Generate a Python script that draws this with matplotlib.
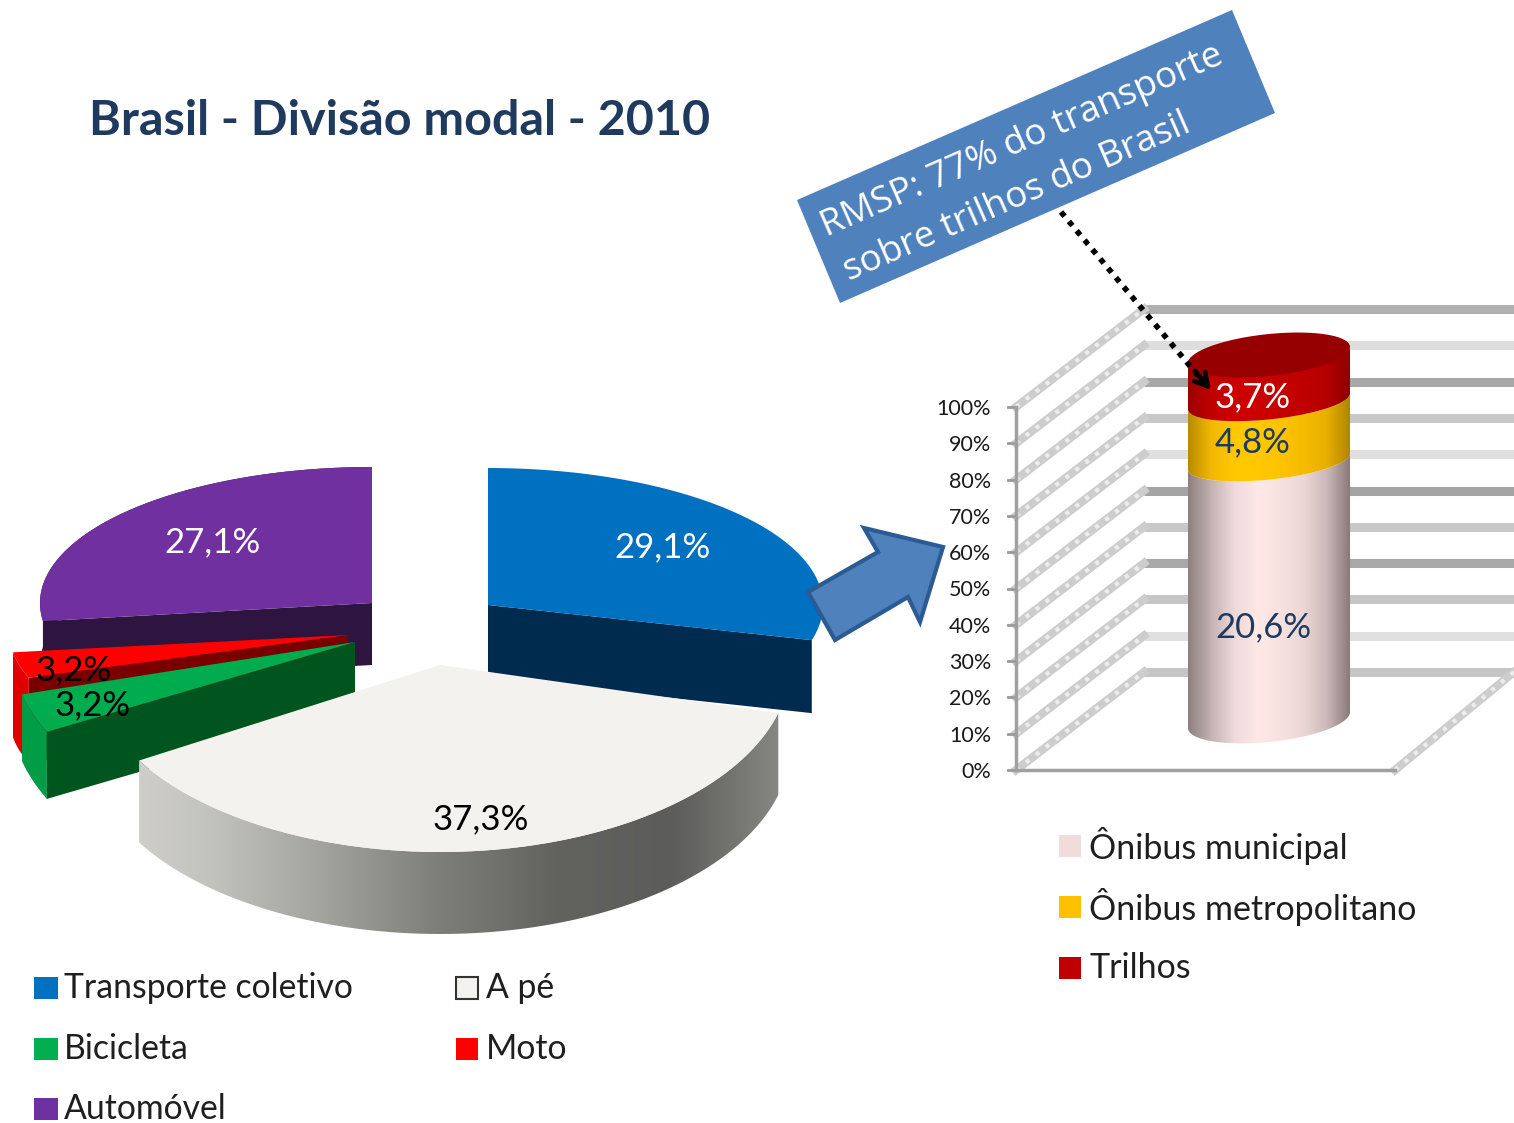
import numpy as np
import matplotlib
matplotlib.use("Agg")
import matplotlib.pyplot as plt
from matplotlib.colors import LinearSegmentedColormap
from matplotlib.patches import Polygon, Rectangle

plt.rcParams['font.family'] = ['Lato', 'DejaVu Sans']

# pie data
pie_names = ['Transporte coletivo', 'A pé', 'Bicicleta', 'Moto', 'Automóvel']
pie_values = [29.1, 37.3, 3.2, 3.2, 27.1]
pie_text = ['29,1%', '37,3%', '3,2%', '3,2%', '27,1%']

# stacked cylinder data
stack_names = ['Ônibus municipal', 'Ônibus metropolitano', 'Trilhos']
stack_values = [20.6, 4.8, 3.7]
stack_text = ['20,6%', '4,8%', '3,7%']
axis_ticks = [0, 10, 20, 30, 40, 50, 60, 70, 80, 90, 100]
grid_shades = ['#C6C6C6', '#E0E0E0', '#C6C6C6', '#A8A8A8', '#C8C8C8', '#A4A4A4',
               '#E0E0E0', '#C8C8C8', '#A8A8A8', '#DEDEDE', '#B0B0B0']

title = 'Brasil - Divisão modal - 2010'
note = ['RMSP: 77% do transporte', 'sobre trilhos do Brasil']

fig = plt.figure(figsize=(15.14, 11.23), dpi=100)
ax = fig.add_axes([0, 0, 1, 1])
ax.set_axis_off()


def reset():
    ax.set_xlim(0, 1514)
    ax.set_ylim(1123, 0)
    ax.set_aspect('auto')


def arc(g, a0, a1, n=80):
    t = np.radians(np.linspace(a0, a1, n))
    return np.c_[g['cx'] + g['rx'] * np.cos(t), g['cy'] - g['ry'] * np.sin(t)]


def gradient(poly, colors, x0, x1, y0, y1, zorder):
    cmap = LinearSegmentedColormap.from_list('g', colors)
    patch = Polygon(poly, closed=True, fc='none', ec='none', zorder=zorder)
    ax.add_patch(patch)
    im = ax.imshow(np.linspace(0, 1, 256)[None, :], cmap=cmap, extent=[x0, x1, y1, y0],
                   aspect='auto', zorder=zorder, interpolation='bilinear')
    im.set_clip_path(patch)
    reset()


# ---- pie, every slice pulled away from the centre by hand
angles = 90 - np.cumsum([0] + pie_values) / sum(pie_values) * 360
geom = [
    dict(cx=488, cy=605, rx=335, ry=137, shift=0, depth=73, top='#0070C0', cut='#002B4F', wall=None, z=4),
    dict(cx=440, cy=665, rx=350, ry=187, shift=0, depth=82, top='#F4F2EE', cut='#888888', wall='grad', z=5),
    dict(cx=355, cy=642, rx=345, ry=200, shift=-4, depth=67, top='#00AC4E', cut='#00551F', wall='#009C46', z=3),
    dict(cx=348, cy=635, rx=338, ry=130, shift=0, depth=85, top='#FF0000', cut='#7A0000', wall='#E00000', z=2),
    dict(cx=372, cy=603, rx=332, ry=136, shift=0, depth=62, top='#7030A0', cut='#2D1540', wall='#2D1540', z=1),
]
for i, g in enumerate(geom):
    a0 = angles[i] + g['shift']
    a1 = angles[i + 1] + g['shift']
    top = arc(g, a0, a1)
    apex = np.array([g['cx'], g['cy']])
    d = np.array([0, g['depth']])
    z = g['z']
    # wall along the rim
    if g['wall'] == 'grad':
        low = np.r_[top, top[::-1] + d]
        gradient(low, ['#D6D5D1', '#C4C4BF', '#A3A39E', '#7E7E79', '#62625F', '#5C5C5A', '#8A8A86'],
                 g['cx'] - g['rx'], g['cx'] + g['rx'], 650, 960, z)
    elif g['wall'] is not None:
        ax.add_patch(Polygon(np.r_[top, top[::-1] + d], fc=g['wall'], ec='none', zorder=z))
    # flat cut face towards the viewer
    if i != 1:
        edge = top[-1] if i == 0 else top[0]
        ax.add_patch(Polygon([apex, edge, edge + d, apex + d], fc=g['cut'], ec='none', zorder=z + 0.1))
    ax.add_patch(Polygon(np.r_[[apex], top], fc=g['top'], ec='none', zorder=z + 0.2))

pie_label_xy = [(663, 547), (481, 819), (93, 705), (74, 670), (212, 542)]
pie_label_col = ['white', 'black', 'black', 'black', 'white']
for txt, (x, y), c in zip(pie_text, pie_label_xy, pie_label_col):
    ax.text(x, y, txt, color=c, fontsize=25, ha='center', va='center', zorder=8)

# pie legend
leg_xy = [(34, 988), (456, 988), (34, 1049), (456, 1049), (34, 1109)]
leg_col = ['#0070C0', '#F4F2EE', '#00B050', '#FF0000', '#7030A0']
for name, (x, y), c in zip(pie_names, leg_xy, leg_col):
    w = 24 if x < 100 else 22
    ax.add_patch(Rectangle((x, y - 11), w, 22, fc=c, ec='#333333' if c == '#F4F2EE' else 'none', lw=1.5))
    ax.text(x + 30, y, name, fontsize=24.3, color='#1F1F1F', ha='left', va='center')

# ---- 3d stacked cylinder
front_x0, front_x1 = 1016, 1395
front_y0, front_y1 = 770, 407
back_dx, back_dy = 128, -98


def val_y(v):
    return front_y0 + (front_y1 - front_y0) * v / 100


for v, shade in zip(axis_ticks, grid_shades):
    y = val_y(v)
    ax.plot([front_x0 + back_dx, 1514], [y + back_dy, y + back_dy], color=shade, lw=6.5,
            solid_capstyle='butt', zorder=1)
    ax.plot([front_x0, front_x0 + back_dx], [y, y + back_dy], color='#CDCDCD', lw=6, zorder=1)
    ax.plot([front_x0, front_x0 + back_dx], [y, y + back_dy], color='#EDEDED', lw=3,
            ls=(0, (1, 2)), zorder=1.1)
    ax.plot([front_x0 - 8, front_x0], [y, y], color='#9A9A9A', lw=2, zorder=2)
    ax.text(991, y + 2, '%d%%' % v, fontsize=15.5, color='#1A1A1A', ha='right', va='center')
ax.plot([front_x1, 1514], [front_y0, front_y0 + back_dy], color='#CDCDCD', lw=6, zorder=1)
ax.plot([front_x1, 1514], [front_y0, front_y0 + back_dy], color='#EDEDED', lw=3, ls=(0, (1, 2)), zorder=1.1)
ax.plot([front_x0, front_x0], [front_y0, front_y1], color='#A0A0A0', lw=2.5, zorder=2)
ax.plot([front_x0, front_x1], [front_y0, front_y0], color='#A0A0A0', lw=2.5, zorder=2)

cyl = dict(cx=1269, rx=81, ry=18, base=720, scale=3.65, tilt=8)
shares = np.cumsum([0] + stack_values) / sum(stack_values) * 100


def rim(v, ry=None):
    t = np.linspace(np.pi, 0, 80)
    ry = cyl['ry'] if ry is None else ry
    x = cyl['cx'] + cyl['rx'] * np.cos(t)
    y = cyl['base'] - cyl['scale'] * v + ry * np.sin(t) - cyl['tilt'] * np.cos(t)
    return np.c_[x, y]


seg_colors = [
    ['#8F7F7F', '#C4B2B2', '#EEDADA', '#FFE8E6', '#F8E2E0', '#EBD7D6', '#CDB9B9', '#8A7A7A'],
    ['#B98C00', '#F2B800', '#FFC800', '#FFC800', '#FFC400', '#F5BC00', '#E8B000', '#B08500'],
    ['#9A0000', '#C00000', '#CC0000', '#CC0000', '#C40000', '#C00000', '#B40000', '#8E0000'],
]
for i in range(3):
    lo = rim(shares[i], ry=22 if i == 0 else None)
    hi = rim(shares[i + 1])
    gradient(np.r_[lo, hi[::-1]], seg_colors[i], cyl['cx'] - cyl['rx'], cyl['cx'] + cyl['rx'], 300, 760, 3 + i)
t = np.linspace(0, 2 * np.pi, 120)
cap = np.c_[cyl['cx'] + cyl['rx'] * np.cos(t),
            cyl['base'] - cyl['scale'] * shares[-1] + 21 * np.sin(t) - cyl['tilt'] * np.cos(t)]
ax.add_patch(Polygon(cap, fc='#960000', ec='none', zorder=7))

stack_label_xy = [(1263, 627), (1253, 442), (1253, 397)]
stack_label_col = ['#1F3A5F', '#1F3A5F', 'white']
for txt, (x, y), c in zip(stack_text, stack_label_xy, stack_label_col):
    ax.text(x, y, txt, color=c, fontsize=25, ha='center', va='center', zorder=8)

leg2_y = [846, 907, 968]
leg2_col = ['#F2DCDB', '#FFC000', '#C00000']
for name, y, c in zip(stack_names, leg2_y, leg2_col):
    ax.add_patch(Rectangle((1059, y - 11), 22, 22, fc=c, ec='none'))
    ax.text(1089, y, name, fontsize=24.5, color='#1F1F1F', ha='left', va='center')

# ---- title, callout and arrows
ax.text(89, 121, title, fontsize=34.9, fontweight='bold', color='#1F3A5F', ha='left', va='center')

ax.add_patch(Polygon([(797, 200), (1232, 10), (1275, 113), (840, 303)], fc='#4F81BD', ec='none', zorder=6))
ax.text(1022, 141, note[0], rotation=23.6, rotation_mode='anchor', fontsize=26.5, color='white',
        ha='center', va='center', zorder=7, family=['Open Sans', 'DejaVu Sans'])
ax.text(1017, 198, note[1], rotation=23.6, rotation_mode='anchor', fontsize=26.5, color='white',
        ha='center', va='center', zorder=7, family=['Open Sans', 'DejaVu Sans'])

ax.add_patch(Polygon([(808, 592), (878, 552), (864, 528), (943, 547), (920, 622), (908, 597), (835, 640)],
                     fc='#4F81BD', ec='#2C5A93', lw=3, zorder=9))

ax.plot([1061, 1200], [212, 378], color='black', lw=4, ls=(0, (1, 1.2)), zorder=9)
ax.annotate('', xy=(1211, 390), xytext=(1195, 371), zorder=9,
            arrowprops=dict(arrowstyle='->,head_length=0.9,head_width=0.5', color='black', lw=3.5,
                            shrinkA=0, shrinkB=0))

reset()
fig.savefig('out.png', dpi=100)
